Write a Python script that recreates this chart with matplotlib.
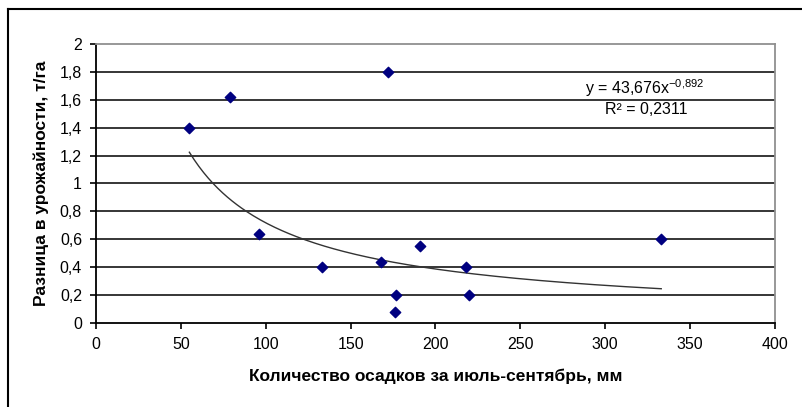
import numpy as np
import matplotlib.pyplot as plt
from matplotlib.lines import Line2D
from matplotlib.ticker import FuncFormatter

plt.rcParams['font.family'] = ['Liberation Sans', 'DejaVu Sans']

# осадки за июль-сентябрь, мм и разница в урожайности, т/га
rain = [55, 79, 172, 96, 133, 168, 177, 176, 191, 218, 220, 333]
diff = [1.40, 1.62, 1.80, 0.64, 0.40, 0.44, 0.20, 0.08, 0.55, 0.40, 0.20, 0.60]

# power trendline y = a*x^b
a = 43.676
b = -0.892
r2 = 0.2311

fig = plt.figure(figsize=(8.02, 4.07), dpi=100)
ax = fig.add_axes([0.1197, 0.2064, 0.8466, 0.6855])

# outer chart frame (left and top edges visible)
fig.add_artist(Line2D([8/802, 8/802], [0, 1 - 9/407], color='black', lw=1.5,
                      transform=fig.transFigure))
fig.add_artist(Line2D([8/802, 1], [1 - 9/407, 1 - 9/407], color='black', lw=1.5,
                      transform=fig.transFigure))

for yv in np.arange(0.2, 1.9, 0.2):
    ax.axhline(yv, color='black', lw=1.1, zorder=1)

xt = np.linspace(min(rain), max(rain), 200)
ax.plot(xt, a * xt ** b, color='#333333', lw=1.0, zorder=2)
ax.scatter(rain, diff, marker='D', s=28, color='#000080', zorder=3)

ax.set_xlim(0, 400)
ax.set_ylim(0, 2)
ax.set_xticks(range(0, 401, 50))
ax.set_yticks(np.arange(0, 2.01, 0.2))
ax.yaxis.set_major_formatter(FuncFormatter(lambda v, p: ('%g' % round(v, 1)).replace('.', ',')))
ax.tick_params(labelsize=11.5, length=4, width=1.2, color='black', direction='out')
ax.tick_params(axis='x', pad=6)
ax.tick_params(axis='y', pad=6)

for s in ['left', 'bottom']:
    ax.spines[s].set_color('black')
    ax.spines[s].set_linewidth(1.3)
for s in ['top', 'right']:
    ax.spines[s].set_color('#909090')
    ax.spines[s].set_linewidth(1.3)

ax.set_xlabel('Количество осадков за июль-сентябрь, мм', fontsize=12.5,
              fontweight='bold', labelpad=12)
ax.set_ylabel('Разница в урожайности, т/га', fontsize=12.5, fontweight='bold', labelpad=8)

eq = 'y = %s$\\mathregular{x^{%s}}$' % (str(a).replace('.', ','), str(b).replace('.', '{,}'))
fig.text(645/802, 1 - 88/407, eq, ha='center', va='center', fontsize=11.5)
fig.text(646/802, 1 - 110/407, 'R² = %s' % str(r2).replace('.', ','),
         ha='center', va='center', fontsize=11.5)

fig.savefig('out.png', dpi=100)
